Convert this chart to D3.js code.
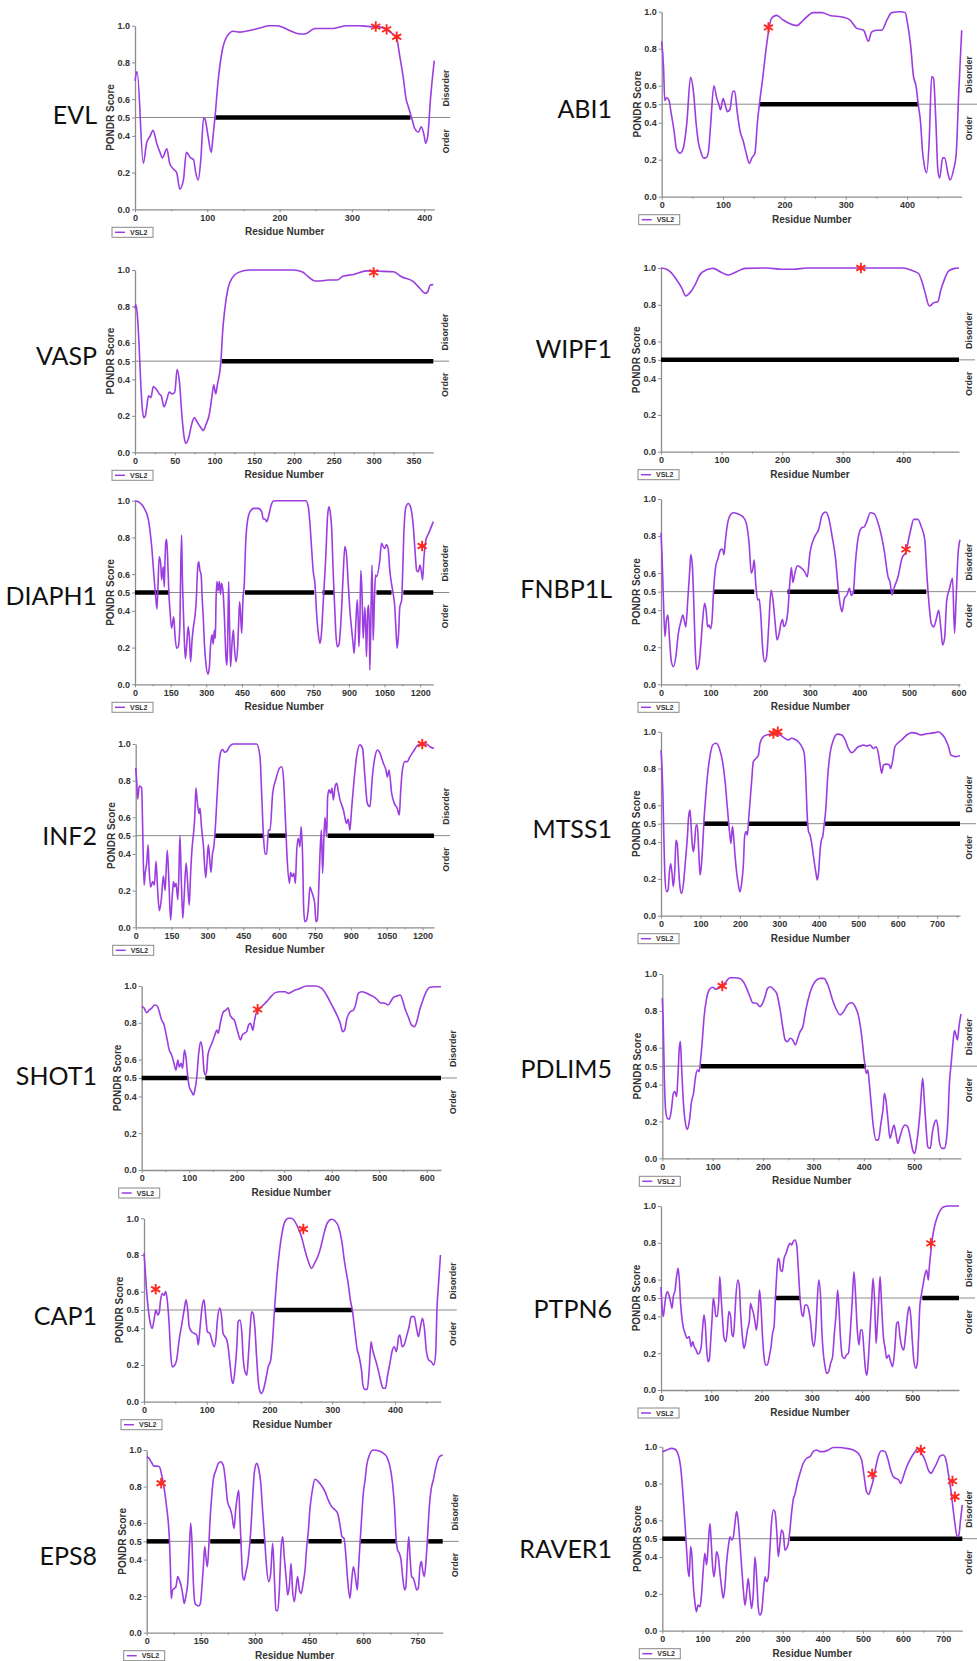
<!DOCTYPE html>
<html>
<head>
<meta charset="utf-8">
<script src="https://cdn.jsdelivr.net/npm/d3@7"></script>
<style>
  body { margin: 0; background: #fff; }
  svg { display: block; }
  .tick text { font-family: "Liberation Sans", Arial, sans-serif; font-weight: bold; fill: #333; }
</style>
</head>
<body>
<div id="chart"></div>
<script>
// ---- data: [residue, PONDR VSL2 score] ----
var EVL = [[0,.70],[3,.75],[11.5,.25],[16,.36],[21,.40],[25,.43],[30,.36],[34.6,.31],[38,.28],[44,.33],[48,.25],[53,.22],[57.6,.20],[62,.11],[67,.16],[71,.31],[77,.28],[81,.27],[84,.20],[87.5,.16],[91,.27],[95,.50],[97,.49],[101,.40],[105.5,.31],[108,.40],[110.6,.50],[115,.70],[120,.85],[127,.94],[136,.97],[145,.965],[160,.975],[175,.99],[185,1],[196,1],[205,.99],[216,.97],[228,.955],[235,.955],[249,.985],[262,.985],[274,.985],[293,1],[310,1],[325,.995],[335,.995],[345,.985],[355,.96],[362,.93],[366,.84],[371,.72],[375,.60],[378,.56],[382.5,.50],[387,.44],[392,.42],[396,.45],[400,.40],[402,.36],[405,.40],[408.7,.60],[411,.70],[414,.81]];
var EVL_REGIONS = [[111,381]];
var EVL_MARKS = [[333,.995],[348,.98],[362,.94]];

var ABI1 = [[0,.84],[3,.70],[5,.52],[8,.535],[12,.52],[15,.46],[20,.36],[24,.26],[30,.235],[35,.26],[41,.40],[47,.645],[52,.56],[56,.40],[60,.29],[64,.24],[68,.21],[72,.21],[76,.24],[80,.40],[85,.60],[90,.53],[93,.50],[96,.47],[100,.53],[104,.49],[107,.46],[111,.47],[116,.57],[119,.57],[123,.46],[128,.35],[133,.30],[137,.245],[143,.18],[147,.21],[152,.235],[156,.40],[160,.52],[165,.65],[168,.74],[174,.89],[179,.965],[187,.98],[198,.955],[209,.935],[220,.925],[231,.955],[247,.995],[261,.995],[274,.98],[296,.97],[307,.955],[318,.91],[329,.90],[337,.84],[342,.89],[350,.90],[359,.90],[367,.955],[375,.995],[389,1],[397,.995],[400,.95],[406,.81],[410,.66],[415,.59],[418,.50],[422,.40],[425,.25],[428,.17],[432,.13],[436,.30],[440,.65],[443,.64],[447,.40],[450,.15],[453,.10],[458,.21],[461,.21],[467,.12],[470,.09],[476,.15],[480,.23],[484,.55],[489,.90]];
var ABI1_REGIONS = [[159,418]];
var ABI1_MARKS = [[174,.915]];

var VASP = [[0,.79],[1,.81],[3,.75],[5,.60],[7,.40],[9,.25],[11,.19],[13,.20],[15,.256],[17,.31],[20,.30],[23,.36],[27,.345],[30.6,.32],[33,.31],[36.5,.25],[40,.29],[43,.33],[47,.32],[50,.33],[53,.455],[56,.38],[59,.20],[62,.077],[64,.05],[67.5,.08],[71,.15],[74.6,.19],[77.6,.17],[82,.14],[86,.12],[89,.15],[93.5,.21],[97,.315],[99,.37],[101.5,.32],[103.5,.37],[108,.50],[110,.65],[113,.79],[117,.90],[122,.955],[130,.987],[145,1],[199,1],[210,.99],[218,.963],[226,.94],[233,.94],[243,.945],[254,.945],[262,.967],[275,.975],[291,.995],[308,.993],[325,.99],[335,.963],[350,.936],[358,.90],[365,.872],[368,.88],[371,.918],[375,.92]];
var VASP_REGIONS = [[109,375]];
var VASP_MARKS = [[300,.987]];

var WIPF1 = [[0,1],[8,.995],[15,.98],[26,.935],[34,.893],[41,.848],[48,.866],[56,.907],[64,.962],[75,.99],[86.5,.998],[97.5,.98],[111,.962],[125,.98],[139,.998],[175,1],[199,.993],[219,.993],[241,1],[400,1],[411,.99],[425,.97],[431,.925],[436,.866],[443,.793],[450,.81],[457,.817],[462,.88],[468,.938],[475,.984],[485,.998],[492,1]];
var WIPF1_REGIONS = [[0,492]];
var WIPF1_MARKS = [[330,1]];

var DIAPH1 = [[0,1],[20,.99],[39,.958],[56,.90],[70,.753],[80,.586],[87,.477],[92.5,.41],[97,.55],[102,.695],[108,.66],[112,.57],[119,.64],[123,.53],[126,.66],[129,.764],[133,.79],[137,.70],[142,.51],[147,.405],[154,.305],[163,.368],[168,.27],[175,.196],[182,.205],[189,.33],[192,.60],[196,.813],[199,.60],[203,.42],[207,.26],[212,.14],[217,.205],[224,.314],[229,.25],[234,.123],[240,.24],[245,.305],[252,.368],[257,.44],[264,.64],[268,.667],[273,.62],[278,.60],[283,.46],[287,.37],[292,.22],[299,.105],[307,.055],[313,.096],[318,.214],[324,.27],[329,.22],[334,.296],[338,.25],[341,.46],[345,.56],[350,.51],[355,.56],[360,.49],[364,.55],[371,.495],[376,.37],[383,.14],[387,.105],[390,.24],[394,.56],[398,.31],[402,.096],[409,.24],[414,.296],[418,.205],[425,.123],[432,.205],[436,.33],[440,.45],[444,.387],[449,.278],[454,.46],[460,.55],[465,.75],[472,.877],[484,.94],[500,.958],[519,.958],[533,.94],[540,.90],[547,.90],[554,.886],[561,.91],[571,.967],[582,.998],[600,1],[694,1],[719,1],[729,.967],[736,.877],[743,.74],[750,.613],[757,.55],[764,.387],[771,.278],[778,.223],[784,.27],[792,.45],[803,.704],[810,.913],[816,.967],[821,.94],[827,.858],[834,.604],[841,.395],[845,.278],[851,.205],[858,.215],[865,.314],[869,.405],[876,.604],[883,.75],[890,.704],[897,.55],[904,.405],[911,.305],[918,.214],[922,.169],[928,.305],[935,.46],[939,.35],[942,.205],[946,.33],[950,.62],[955,.50],[960,.25],[967,.42],[971,.30],[974,.15],[979,.40],[983,.43],[986,.30],[988,.078],[993,.405],[997,.65],[1000,.45],[1002,.24],[1007,.45],[1012,.595],[1016,.586],[1030,.677],[1037,.768],[1044,.75],[1051,.74],[1058,.76],[1065,.74],[1072,.62],[1079,.55],[1086,.495],[1093,.42],[1098,.296],[1103,.196],[1109,.278],[1114,.42],[1122,.46],[1126,.60],[1131,.82],[1140,.967],[1150,.985],[1159,.967],[1171,.858],[1178,.73],[1185,.62],[1192,.613],[1199,.65],[1206,.604],[1210,.57],[1215,.677],[1224,.786],[1232,.813],[1241,.84],[1255,.886]];
var DIAPH1_REGIONS = [[0,144],[463,753],[789,837],[1016,1079],[1129,1255]];
var DIAPH1_MARKS = [[1208,.753]];

var FNBP1L = [[0,.818],[2,.70],[5,.446],[8,.257],[11,.347],[14,.374],[17,.248],[21,.122],[25,.095],[30,.15],[35,.275],[40,.338],[44,.374],[48,.33],[50,.31],[54,.455],[58,.617],[60,.70],[63,.65],[66,.45],[69,.194],[72,.08],[76,.10],[80,.203],[84,.347],[88,.437],[91,.40],[94,.311],[97,.32],[100,.30],[103,.35],[106,.50],[110,.63],[115,.68],[120,.725],[124,.73],[127,.70],[130,.78],[135,.878],[140,.914],[145,.926],[155,.92],[165,.905],[172,.87],[178,.75],[182,.60],[185,.62],[188,.67],[191,.545],[195,.455],[198,.46],[201,.383],[205,.194],[209,.122],[213,.15],[217,.302],[222,.509],[226,.45],[230,.338],[234,.24],[238,.27],[242,.33],[245,.35],[248,.311],[252,.33],[256,.40],[260,.554],[263,.63],[266,.55],[270,.60],[275,.64],[282,.63],[290,.607],[295,.58],[300,.70],[310,.797],[318,.836],[325,.914],[332,.93],[338,.90],[345,.80],[352,.68],[358,.50],[362,.42],[365,.392],[370,.464],[375,.482],[380,.518],[384,.48],[388,.50],[392,.653],[398,.797],[405,.845],[410,.85],[415,.878],[422,.926],[430,.92],[440,.85],[450,.725],[458,.58],[462,.55],[466,.482],[470,.52],[478,.58],[486,.68],[494,.716],[502,.815],[510,.89],[518,.89],[525,.85],[532,.78],[536,.60],[540,.45],[545,.33],[550,.31],[555,.35],[560,.40],[565,.284],[568,.212],[572,.25],[576,.446],[582,.518],[588,.572],[592,.275],[595,.45],[599,.70],[603,.78]];
var FNBP1L_REGIONS = [[106,188],[255,358],[388,535]];
var FNBP1L_MARKS = [[494,.728]];

var INF2 = [[0,.87],[4,.80],[8,.70],[15,.77],[25,.76],[29,.55],[35,.23],[40,.30],[46,.35],[52,.45],[56,.32],[63,.22],[71,.25],[78,.23],[85,.36],[92,.20],[99,.09],[107,.15],[116,.28],[123,.20],[132,.42],[139,.25],[146,.04],[152,.15],[158,.25],[163,.22],[169,.24],[176,.15],[181,.30],[185,.50],[191,.25],[197,.05],[202,.15],[211,.35],[217,.25],[224,.12],[230,.30],[237,.45],[241,.50],[247,.60],[252,.76],[258,.68],[265,.62],[269,.65],[275,.55],[283,.45],[293,.27],[298,.35],[304,.45],[309,.38],[315,.30],[321,.40],[326,.43],[332,.52],[342,.75],[349,.90],[357,.96],[364,.97],[372,.955],[381,.96],[395,.99],[408,1],[425,1],[506,1],[520,.93],[527,.73],[534,.51],[541,.40],[548,.40],[555,.53],[562,.53],[573,.73],[587,.81],[601,.867],[611,.876],[618,.82],[626,.60],[634,.367],[643,.24],[648,.30],[655,.276],[662,.295],[668,.24],[673,.40],[680,.485],[687,.44],[692,.55],[698,.40],[703,.095],[708,.03],[715,.04],[722,.10],[729,.22],[736,.195],[743,.167],[749,.13],[754,.03],[760,.04],[765,.18],[771,.40],[777,.53],[782,.295],[788,.51],[792,.60],[799,.495],[803,.71],[809,.75],[816,.73],[821,.76],[827,.695],[834,.767],[841,.785],[848,.74],[855,.695],[862,.667],[869,.64],[876,.595],[882,.567],[889,.59],[896,.53],[903,.64],[913,.795],[924,.93],[938,.995],[949,.976],[959,.82],[969,.676],[980,.658],[990,.82],[1001,.93],[1012,.967],[1022,.95],[1036,.895],[1047,.858],[1053,.82],[1060,.858],[1071,.73],[1082,.676],[1094,.65],[1103,.613],[1108,.73],[1115,.85],[1126,.904],[1136,.904],[1147,.93],[1161,.958],[1182,.995],[1196,1],[1217,1],[1231,.985],[1248,.976]];
var INF2_REGIONS = [[332,534],[555,633],[803,1248]];
var INF2_MARKS = [[1199,1]];

var MTSS1 = [[0,.90],[2.5,.81],[5,.647],[7.6,.393],[10,.212],[14,.13],[18,.14],[21,.23],[24.5,.284],[28,.23],[31,.158],[35,.248],[38,.41],[41,.393],[45,.248],[48,.158],[52,.121],[57,.176],[62,.30],[67,.43],[70,.538],[73.5,.574],[76,.50],[79,.393],[82,.348],[85,.393],[89,.493],[92,.493],[95.5,.357],[99,.221],[102,.266],[106,.393],[109,.52],[112,.61],[117.5,.755],[124,.864],[131,.928],[139.5,.937],[148,.909],[156,.837],[163,.719],[168,.592],[172,.493],[175,.43],[177.5,.393],[181,.484],[183,.457],[188,.32],[192,.23],[197,.158],[200,.13],[204.5,.176],[209,.284],[212,.43],[215.5,.457],[219,.438],[222,.52],[226,.629],[230,.737],[234,.837],[241,.855],[247,.873],[251,.937],[259.5,.973],[268,.982],[278,.987],[289,.991],[302,.982],[314,.964],[323,.955],[331,.964],[340,.958],[348,.946],[357,.918],[363,.882],[367,.755],[370,.574],[374,.457],[378,.438],[382,.393],[388,.30],[393,.23],[396,.194],[400,.248],[403,.348],[406.6,.411],[410,.43],[413,.484],[417.6,.574],[422.6,.755],[428.6,.882],[437,.955],[447,.987],[458,.982],[467,.955],[475,.909],[483.5,.886],[492,.90],[498,.915],[505,.922],[513,.928],[521.6,.922],[530,.928],[538.5,.909],[545,.918],[551,.882],[555,.828],[559.6,.774],[564,.819],[572,.824],[579,.819],[582,.80],[587.5,.846],[593,.918],[600,.937],[610,.955],[623,.982],[636,.995],[648,.991],[658.5,.982],[669.5,.987],[682,.991],[695,.995],[703,1],[712,.987],[720,.964],[729,.918],[735,.873],[741,.868],[748,.864],[754,.868],[758,.868]];
var MTSS1_REGIONS = [[109,172],[222,370],[416,758]];
var MTSS1_MARKS = [[285,.99],[296,1]];

var SHOT1 = [[0,.888],[5,.88],[10.5,.855],[16,.87],[21,.88],[27,.897],[33,.89],[37,.86],[42,.815],[47,.79],[53,.716],[58,.652],[63,.625],[68,.58],[72,.543],[76,.598],[79,.56],[83,.58],[86,.553],[90,.652],[93,.616],[97,.507],[100,.453],[105,.426],[109,.408],[112,.435],[116,.507],[120,.634],[124,.697],[128,.652],[131,.543],[134,.516],[137,.543],[139,.616],[142,.652],[146,.679],[149,.697],[154,.734],[158,.76],[161,.743],[166,.806],[172,.86],[178,.87],[182,.882],[186,.842],[191,.824],[195,.815],[200,.77],[204,.734],[208,.707],[212,.734],[216,.743],[221,.752],[225,.788],[229,.797],[234,.76],[237,.806],[242,.86],[249,.879],[256,.897],[263,.915],[272,.942],[281,.964],[291,.969],[302,.969],[309,.96],[319,.973],[333,.987],[347,1],[365,1],[379,.987],[389,.951],[400,.897],[411,.842],[418,.797],[423,.752],[427,.76],[432,.824],[439,.86],[446,.87],[451,.906],[456,.96],[463,.969],[474,.96],[481,.951],[488,.942],[495,.928],[502,.909],[512,.906],[519,.897],[524,.915],[530,.938],[537,.946],[544,.951],[549,.924],[554,.879],[561,.833],[568,.788],[574,.779],[579,.806],[585,.87],[592,.924],[599,.969],[607,.993],[618,.996],[630,.996]];
var SHOT1_REGIONS = [[0,98],[134,630]];
var SHOT1_MARKS = [[244,.873]];

var PDLIM5 = [[0,.868],[2,.714],[4,.443],[6.6,.262],[10,.217],[14,.212],[18,.262],[22,.353],[25,.362],[28.5,.335],[31,.443],[34,.606],[36,.633],[38,.515],[42,.298],[46,.19],[50,.157],[54,.208],[58,.307],[62,.353],[66,.443],[70,.479],[73,.47],[76,.533],[79,.624],[83,.768],[88,.868],[93,.913],[100,.928],[107,.917],[113,.931],[120,.94],[126.5,.958],[134,.98],[144,.98],[154,.976],[161,.958],[167.5,.922],[174,.877],[179.5,.844],[187,.841],[194,.823],[199,.841],[204,.877],[209,.922],[215,.931],[222,.913],[227,.895],[234,.805],[239,.714],[244,.642],[248,.633],[254,.651],[259,.642],[264,.615],[269,.651],[273.5,.687],[279,.714],[285,.805],[293,.895],[303,.958],[313,.976],[321,.976],[330,.931],[338,.859],[346,.805],[353,.778],[360,.796],[367.5,.832],[376,.844],[383,.823],[389,.778],[396,.66],[401,.533],[405,.461],[408,.479],[411,.407],[414.6,.298],[419,.172],[424,.10],[429,.10],[434,.19],[438,.262],[441,.353],[444,.316],[448,.208],[452,.108],[456,.145],[460,.181],[463.6,.136],[467.5,.081],[472,.118],[477,.163],[482,.181],[487,.172],[492,.118],[497,.045],[501,.027],[505,.081],[509,.172],[512,.262],[514.6,.37],[517,.434],[520.5,.298],[524,.154],[527,.063],[532,.054],[536,.136],[540,.19],[544,.208],[547,.172],[550,.09],[555,.054],[560,.054],[564,.10],[567,.208],[570,.407],[573.5,.515],[577,.624],[580,.693],[583,.669],[586,.642],[589,.714],[593,.783]];
var PDLIM5_REGIONS = [[76,404]];
var PDLIM5_MARKS = [[119,.935]];

var CAP1 = [[0,.81],[1.6,.736],[4,.61],[7,.50],[9.6,.436],[13,.40],[16,.445],[19,.50],[22,.473],[24,.482],[26.5,.555],[29,.59],[32,.58],[34.5,.60],[37,.555],[40,.427],[42.5,.264],[45,.19],[49,.20],[52,.227],[56,.336],[60,.418],[64,.50],[67,.555],[70,.49],[72,.41],[76,.382],[80,.373],[84,.364],[86.6,.309],[89,.39],[92,.50],[95.6,.555],[98,.482],[101,.382],[105,.373],[108,.336],[112,.30],[115,.355],[117,.445],[121,.51],[124,.455],[126,.373],[129,.355],[132,.336],[134,.30],[137,.21],[140,.118],[142,.10],[145,.173],[148,.30],[150,.436],[153,.445],[156,.373],[158,.245],[161,.164],[164,.145],[166,.227],[169,.39],[171.5,.49],[174,.482],[177,.39],[179.5,.245],[182,.118],[185,.055],[187.5,.045],[191,.073],[194,.118],[198,.19],[202,.227],[205,.336],[208,.50],[211,.645],[215.6,.81],[220,.918],[224.6,.982],[230,1],[235,1],[240.6,.982],[246,.945],[251,.90],[256.5,.827],[262,.764],[267,.727],[272,.755],[278,.80],[282,.845],[287,.918],[292,.973],[299,.995],[304,.987],[310,.955],[315,.882],[320,.755],[325.5,.645],[329,.555],[332.5,.49],[336,.39],[340,.282],[343,.245],[347,.164],[349,.09],[352,.067],[356,.067],[359,.173],[362,.327],[364,.29],[367.5,.245],[370.7,.209],[374,.164],[377.6,.109],[381,.073],[385,.073],[388,.136],[392,.209],[396,.282],[399,.30],[402.5,.273],[406,.355],[408,.364],[411.6,.30],[414.8,.31],[418.5,.355],[422.7,.41],[426,.464],[430.7,.464],[434,.41],[437.6,.355],[440.8,.41],[444,.455],[447,.40],[450,.282],[454,.227],[458,.218],[462,.20],[465,.264],[467,.50],[470,.664],[472.6,.80]];
var CAP1_REGIONS = [[208,332]];
var CAP1_MARKS = [[18.6,.613],[254,.942]];

var PTPN6 = [[0,.56],[2,.453],[4.6,.40],[7,.453],[10,.516],[13,.534],[16.6,.507],[19,.48],[22,.444],[24.5,.507],[28,.543],[31,.616],[34,.661],[36.5,.598],[39,.471],[43,.362],[48,.308],[52,.281],[56,.29],[60,.236],[63,.263],[66,.236],[70,.217],[73,.196],[76,.20],[80,.236],[83,.344],[85.5,.408],[88,.362],[91,.217],[93.5,.154],[96,.163],[99,.272],[101.5,.38],[104,.498],[107,.453],[109,.40],[112,.40],[115,.489],[117,.616],[120,.489],[123,.362],[125,.29],[129,.263],[132,.326],[135,.426],[138.6,.40],[141,.308],[144,.29],[146.5,.38],[149,.507],[153,.598],[156,.56],[158.5,.417],[162,.29],[165,.226],[168,.254],[172,.326],[176,.38],[178,.471],[181,.444],[184,.417],[187,.371],[190,.326],[193.6,.435],[196,.543],[199,.453],[201.6,.308],[205,.181],[208,.136],[211.5,.136],[215.5,.181],[219,.236],[222,.308],[225,.344],[227.5,.489],[230,.616],[233,.716],[235.4,.707],[238,.652],[241,.643],[245,.716],[249,.743],[253,.779],[257,.797],[260,.788],[263,.806],[266.6,.815],[270,.788],[273,.67],[276.5,.507],[280,.417],[283,.40],[286.5,.462],[290,.462],[294,.435],[298,.362],[301,.272],[304,.236],[308,.326],[311,.489],[314,.598],[317.6,.507],[320,.326],[323,.20],[326,.136],[329.6,.09],[333.6,.10],[337.5,.145],[341.5,.181],[345,.308],[348,.40],[351.5,.543],[354,.453],[357,.29],[361,.181],[365,.172],[369,.19],[373,.20],[377,.326],[380.6,.489],[384,.643],[387,.525],[390.6,.326],[394,.245],[397,.326],[400.5,.326],[404,.208],[407,.109],[410,.08],[413,.181],[416,.326],[419,.471],[422,.607],[425,.489],[428,.254],[430,.326],[433,.471],[436,.616],[439,.462],[442,.308],[446,.226],[449,.172],[453,.19],[457,.154],[461,.127],[465,.217],[469,.362],[472,.371],[475.5,.29],[479,.236],[483,.217],[487,.308],[491,.417],[494,.453],[497,.40],[500,.272],[503,.163],[507,.118],[510,.145],[512.6,.29],[515,.453],[518.6,.525],[522,.58],[525,.625],[528.5,.652],[532,.598],[534,.67],[537,.752],[540,.824],[545,.897],[550,.942],[556,.978],[563,.996],[571.6,1],[593,1]];
var PTPN6_REGIONS = [[228,277],[520,593]];
var PTPN6_MARKS = [[537,.797]];

var EPS8 = [[0,.963],[6.5,.954],[14,.93],[20,.912],[28,.912],[35,.909],[41.5,.863],[46,.818],[51,.754],[55,.69],[60,.60],[63,.507],[65.6,.361],[68,.188],[72,.234],[77,.243],[81,.252],[86,.307],[90.5,.288],[95,.261],[100,.206],[104,.16],[109,.206],[113.6,.27],[118,.453],[122,.60],[125.6,.489],[129,.288],[134,.16],[138.5,.151],[144,.146],[148.7,.16],[153,.252],[157,.361],[160.7,.471],[164,.416],[168,.361],[172,.471],[175,.60],[180,.745],[185,.845],[192,.89],[198.5,.927],[205,.936],[212,.918],[218,.836],[224,.717],[231,.68],[236,.644],[242,.571],[246.5,.672],[251,.745],[255,.78],[258.5,.617],[262,.453],[266,.307],[270,.288],[274,.325],[279,.37],[284,.453],[289,.58],[293.6,.745],[299,.89],[305,.927],[310,.90],[316,.818],[321,.672],[327,.507],[332,.361],[338,.279],[343.5,.325],[349,.489],[353.6,.307],[358,.124],[363,.12],[367.5,.234],[372,.453],[376.7,.526],[381,.416],[386,.307],[390.6,.206],[395,.252],[400,.38],[404,.234],[409,.17],[413.7,.243],[418,.307],[423,.234],[428,.215],[434,.279],[438.6,.343],[443,.462],[448,.562],[452,.672],[459,.78],[466,.84],[475.5,.827],[485,.803],[494,.772],[503,.726],[512.5,.69],[522,.672],[529,.653],[535.5,.589],[541,.526],[546.6,.516],[552,.416],[557,.279],[563,.188],[568,.288],[572.5,.361],[578,.307],[583.6,.234],[587,.361],[591,.489],[595.6,.635],[600,.763],[605,.836],[609,.909],[617,.973],[628,1],[642,.996],[655.6,.982],[665,.963],[674,.909],[681,.818],[687,.672],[690.6,.526],[695,.453],[700,.434],[704.5,.398],[709,.307],[714.7,.234],[718,.252],[722,.416],[726,.526],[729.5,.416],[734,.307],[738.7,.297],[743,.27],[748,.234],[752.5,.243],[757,.361],[761,.389],[764.5,.343],[769,.307],[774,.398],[778,.526],[783,.69],[787.6,.78],[794,.836],[801.5,.909],[810.7,.963],[820,.973]];
var EPS8_REGIONS = [[0,63],[176,262],[286,328],[448,540],[591,690],[780,820]];
var EPS8_MARKS = [[40,.818]];

var RAVER1 = [[0,.973],[11,.982],[23,.991],[31.6,.986],[40,.955],[46.5,.873],[52,.728],[56.5,.583],[60.6,.438],[64,.33],[67,.293],[70.6,.457],[74,.402],[77,.257],[80.6,.167],[85,.103],[89,.139],[94,.13],[98,.203],[102,.33],[106,.42],[110.5,.357],[114.6,.475],[118.8,.583],[122,.475],[125.4,.348],[128.7,.293],[132,.348],[135,.429],[139.5,.402],[143.7,.312],[148,.23],[152,.176],[156,.239],[160,.366],[164.5,.457],[168.6,.51],[172.8,.493],[177,.51],[181,.583],[185,.647],[189,.60],[193.5,.475],[197.7,.348],[202,.221],[206,.139],[210,.203],[214,.284],[218,.203],[222.6,.121],[226.7,.203],[231,.402],[235,.293],[239,.13],[243,.085],[247.5,.103],[251.7,.203],[256,.293],[260,.266],[264,.293],[268,.438],[272,.583],[276.6,.656],[280.7,.647],[285,.547],[289,.402],[293,.475],[297,.547],[301.5,.529],[305.6,.438],[309.8,.447],[314,.475],[318,.547],[322,.638],[326,.71],[331,.746],[336,.80],[343,.855],[351,.909],[359.6,.937],[368,.946],[376,.973],[384.5,.982],[393,.973],[401,.973],[413.6,.982],[426,.996],[442.7,.996],[459,.991],[476,.982],[488,.964],[496.7,.928],[503,.837],[509,.755],[514,.741],[520,.774],[525.7,.819],[532,.891],[538,.946],[546.5,.978],[555,.973],[561.5,.937],[569,.873],[575.6,.837],[582,.828],[589,.819],[594,.80],[600.5,.837],[609,.891],[617,.928],[627,.964],[638,.991],[646,.964],[654.5,.928],[663,.873],[669.4,.855],[675,.873],[683.6,.909],[692,.949],[700,.955],[707,.928],[712.6,.855],[718.4,.774],[723,.692],[729,.583],[735,.51],[739,.52],[743,.601],[747.5,.683]];
var RAVER1_REGIONS = [[0,58],[318,747.5]];
var RAVER1_MARKS = [[523,.851],[644,.982],[723,.813],[729,.728]];

var yTickValues = [0, 0.2, 0.4, 0.5, 0.6, 0.8, 1.0];

// panel frames on the page
var panels = [
  {name: "EVL",    data: EVL,    regions: EVL_REGIONS,    marks: EVL_MARKS,    x0: 135,   x1: 434.3, top: 25.7,   bot: 209.3,  max: 414,   step: 100, labelY: 124},
  {name: "ABI1",   data: ABI1,   regions: ABI1_REGIONS,   marks: ABI1_MARKS,   x0: 661.7, x1: 961.7, top: 11.7,   bot: 196.7,  max: 489,   step: 100, labelY: 118},
  {name: "VASP",   data: VASP,   regions: VASP_REGIONS,   marks: VASP_MARKS,   x0: 135,   x1: 433.3, top: 270,    bot: 452.3,  max: 375,   step: 50,  labelY: 365},
  {name: "WIPF1",  data: WIPF1,  regions: WIPF1_REGIONS,  marks: WIPF1_MARKS,  x0: 661,   x1: 959,   top: 268,    bot: 451.7,  max: 492,   step: 100, labelY: 358},
  {name: "DIAPH1", data: DIAPH1, regions: DIAPH1_REGIONS, marks: DIAPH1_MARKS, x0: 135,   x1: 433.3, top: 500.7,  bot: 684.3,  max: 1255,  step: 150, labelY: 605},
  {name: "FNBP1L", data: FNBP1L, regions: FNBP1L_REGIONS, marks: FNBP1L_MARKS, x0: 661,   x1: 960,   top: 499,    bot: 684.3,  max: 603,   step: 100, labelY: 598},
  {name: "INF2",   data: INF2,   regions: INF2_REGIONS,   marks: INF2_MARKS,   x0: 135.7, x1: 434,   top: 744,    bot: 927.3,  max: 1248,  step: 150, labelY: 845},
  {name: "MTSS1",  data: MTSS1,  regions: MTSS1_REGIONS,  marks: MTSS1_MARKS,  x0: 661,   x1: 960,   top: 731.7,  bot: 915.7,  max: 758,   step: 100, labelY: 838},
  {name: "SHOT1",  data: SHOT1,  regions: SHOT1_REGIONS,  marks: SHOT1_MARKS,  x0: 141.7, x1: 441,   top: 986,    bot: 1170,   max: 630,   step: 100, labelY: 1085},
  {name: "PDLIM5", data: PDLIM5, regions: PDLIM5_REGIONS, marks: PDLIM5_MARKS, x0: 662.3, x1: 961,   top: 974,    bot: 1158.3, max: 593,   step: 100, labelY: 1078},
  {name: "CAP1",   data: CAP1,   regions: CAP1_REGIONS,   marks: CAP1_MARKS,   x0: 144,   x1: 440.7, top: 1218.3, bot: 1401.7, max: 473,   step: 100, labelY: 1325},
  {name: "PTPN6",  data: PTPN6,  regions: PTPN6_REGIONS,  marks: PTPN6_MARKS,  x0: 661,   x1: 959,   top: 1206,   bot: 1390,   max: 593,   step: 100, labelY: 1318},
  {name: "EPS8",   data: EPS8,   regions: EPS8_REGIONS,   marks: EPS8_MARKS,   x0: 146.7, x1: 442.7, top: 1450,   bot: 1632.7, max: 820,   step: 150, labelY: 1565},
  {name: "RAVER1", data: RAVER1, regions: RAVER1_REGIONS, marks: RAVER1_MARKS, x0: 662.3, x1: 962.3, top: 1446.7, bot: 1630.7, max: 747.5, step: 100, labelY: 1558}
];

var width = 977, height = 1661;
var fontAxis = '"Liberation Sans", Arial, sans-serif';

var svg = d3.select("#chart").append("svg")
  .attr("width", width)
  .attr("height", height);

svg.append("rect").attr("width", width).attr("height", height).attr("fill", "#fff");

// six-armed asterisk like the marks in the figure
var asterisk = {
  draw: function(ctx, size) {
    var r = Math.sqrt(size) / 2;
    for (var i = 0; i < 3; i++) {
      var a = Math.PI / 2 + i * Math.PI / 3;
      ctx.moveTo(r * Math.cos(a), r * Math.sin(a));
      ctx.lineTo(-r * Math.cos(a), -r * Math.sin(a));
    }
  }
};

panels.forEach(drawPanel);

function drawPanel(p) {
  var x = d3.scaleLinear().domain([0, p.max]).range([p.x0, p.x1]);
  var y = d3.scaleLinear().domain([0, 1]).range([p.bot, p.top]);
  var left = p.x0 < 400;
  var g = svg.append("g").attr("class", "panel");

  // protein name
  g.append("text")
    .attr("x", left ? 97 : 612)
    .attr("y", p.labelY)
    .attr("text-anchor", "end")
    .style("font-family", "Lato, 'Open Sans', sans-serif")
    .style("font-size", "25px")
    .style("fill", "#111")
    .text(p.name);

  // y axis
  var yAxis = g.append("g")
    .attr("transform", "translate(" + p.x0 + ",0)")
    .call(d3.axisLeft(y).tickValues(yTickValues).tickFormat(d3.format(".1f")).tickSize(3).tickSizeOuter(0).tickPadding(2));
  yAxis.selectAll("text").style("font-size", "9px");

  // x axis, major and minor ticks
  var xTicks = d3.range(0, p.max + 1, p.step);
  var minor = d3.range(p.step / 2, p.max, p.step);
  var xAxis = g.append("g")
    .attr("transform", "translate(0," + p.bot + ")")
    .call(d3.axisBottom(x).tickValues(xTicks).tickFormat(d3.format("d")).tickSize(3).tickSizeOuter(0).tickPadding(2));
  xAxis.selectAll("text").style("font-size", "9px");
  g.append("g")
    .attr("transform", "translate(0," + p.bot + ")")
    .call(d3.axisBottom(x).tickValues(minor).tickFormat("").tickSize(2).tickSizeOuter(0))
    .select(".domain").remove();

  g.selectAll(".domain").attr("stroke", "#8c8c8c").attr("stroke-width", 1.3);
  g.selectAll(".tick line").attr("stroke", "#8c8c8c");

  // axis titles
  g.append("text")
    .attr("transform", "translate(" + (p.x0 - 21) + "," + ((p.top + p.bot) / 2) + ") rotate(-90)")
    .attr("text-anchor", "middle")
    .style("font-family", fontAxis).style("font-weight", "bold").style("font-size", "10px").style("fill", "#333")
    .text("PONDR Score");

  g.append("text")
    .attr("x", (p.x0 + p.x1) / 2)
    .attr("y", p.bot + 26)
    .attr("text-anchor", "middle")
    .style("font-family", fontAxis).style("font-weight", "bold").style("font-size", "10px").style("fill", "#333")
    .text("Residue Number");

  // order / disorder side labels (kept inside the page on the right column)
  var sideX = Math.min(p.x1 + 15, width - 5);
  [["Disorder", 0.66], ["Order", 0.37]].forEach(function(d) {
    g.append("text")
      .attr("transform", "translate(" + sideX + "," + y(d[1]) + ") rotate(-90)")
      .attr("text-anchor", "middle")
      .style("font-family", fontAxis).style("font-weight", "bold").style("font-size", "9px").style("fill", "#333")
      .text(d[0]);
  });

  // legend
  var lg = g.append("g").attr("transform", "translate(" + (p.x0 - 23) + "," + (p.bot + 18) + ")");
  lg.append("rect").attr("width", 41).attr("height", 10)
    .attr("fill", "#fff").attr("stroke", "#888").attr("stroke-width", 1);
  lg.append("line").attr("x1", 3).attr("x2", 13).attr("y1", 5).attr("y2", 5)
    .attr("stroke", "#9b3de0").attr("stroke-width", 1.5);
  lg.append("text").attr("x", 18).attr("y", 7.6)
    .style("font-family", fontAxis).style("font-weight", "bold").style("font-size", "7px").style("fill", "#333")
    .text("VSL2");

  // 0.5 threshold
  g.append("line")
    .attr("x1", p.x0).attr("x2", p.x1 + 16)
    .attr("y1", y(0.5)).attr("y2", y(0.5))
    .attr("stroke", "#8a8a8a").attr("stroke-width", 1);

  // predicted disordered regions
  g.selectAll(".region")
    .data(p.regions)
    .enter().append("line")
      .attr("class", "region")
      .attr("x1", function(d) { return x(d[0]); })
      .attr("x2", function(d) { return x(d[1]); })
      .attr("y1", y(0.5)).attr("y2", y(0.5))
      .attr("stroke", "#000").attr("stroke-width", 4.5);

  // VSL2 score curve
  var line = d3.line()
    .x(function(d) { return x(d[0]); })
    .y(function(d) { return y(d[1]); })
    .curve(d3.curveMonotoneX);

  g.append("path")
    .datum(p.data)
    .attr("d", line)
    .attr("fill", "none")
    .attr("stroke", "#9b3de0")
    .attr("stroke-width", 1.6)
    .attr("stroke-linejoin", "round");

  // red asterisks
  g.selectAll(".mark")
    .data(p.marks)
    .enter().append("path")
      .attr("class", "mark")
      .attr("transform", function(d) { return "translate(" + x(d[0]) + "," + y(d[1]) + ")"; })
      .attr("d", d3.symbol().type(asterisk).size(110))
      .attr("fill", "none")
      .attr("stroke", "#ff2a1f")
      .attr("stroke-width", 1.9);
}
</script>
</body>
</html>
